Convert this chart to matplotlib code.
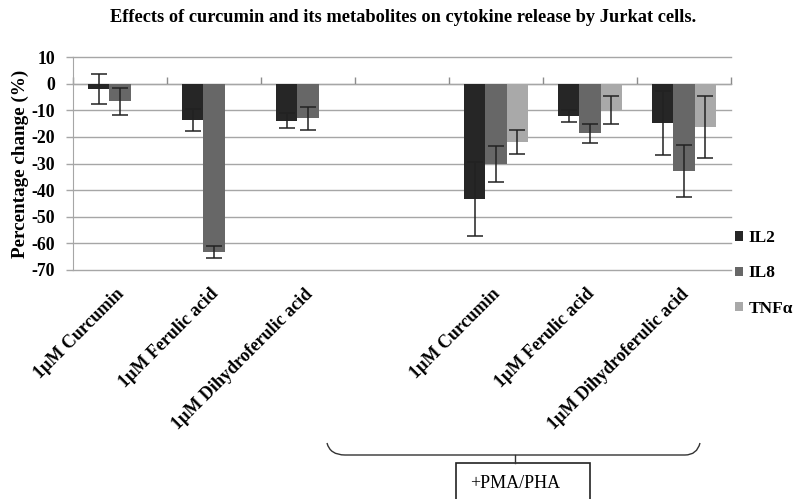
import numpy as np
import matplotlib
matplotlib.use("Agg")
import matplotlib.pyplot as plt
from matplotlib.patches import Patch, PathPatch, Rectangle
from matplotlib.path import Path
from matplotlib.lines import Line2D
from matplotlib.transforms import ScaledTranslation

plt.rcParams['font.family'] = ['Liberation Serif', 'DejaVu Serif']

categories = ["1µM Curcumin", "1µM Ferulic acid", "1µM Dihydroferulic acid", "",
              "1µM Curcumin", "1µM Ferulic acid", "1µM Dihydroferulic acid"]
series_names = ["IL2", "IL8", "TNFα"]
il2 = [-2.0, -13.7, -13.9, np.nan, -43.5, -12.2, -14.9]
il2_err = [5.8, 4.0, 2.8, np.nan, 13.9, 2.4, 12.0]
il8 = [-6.7, -63.2, -13.0, np.nan, -30.2, -18.6, -32.9]
il8_err = [5.0, 2.4, 4.3, np.nan, 6.7, 3.6, 9.7]
tnf = [np.nan, np.nan, np.nan, np.nan, -22.0, -10.0, -16.4]
tnf_err = [np.nan, np.nan, np.nan, np.nan, 4.5, 5.3, 11.7]
y_ticks = [10, 0, -10, -20, -30, -40, -50, -60, -70]

colors = ["#262626", "#676767", "#a9a9a9"]
grid_c = "#a6a6a6"

fig = plt.figure(figsize=(7.98, 4.99), dpi=100)
W, H = 798, 499
ax = fig.add_axes([73 / W, 1 - 270 / H, (731 - 73) / W, (270 - 57) / H])

x = np.arange(len(categories))
bw = 0.225
values = [il2, il8, tnf]
errors = [il2_err, il8_err, tnf_err]
for i, (v, e) in enumerate(zip(values, errors)):
    pos = x + (i - 1) * bw
    ax.bar(pos, v, width=bw, color=colors[i], edgecolor="none", zorder=2)
    ax.errorbar(pos, v, yerr=e, fmt="none", ecolor="#222222", elinewidth=1.1,
                capsize=5.5, capthick=1.1, zorder=3)

ax.set_xlim(-0.5, len(categories) - 0.5)
ax.set_ylim(min(y_ticks), max(y_ticks))
ax.set_yticks(y_ticks)
ax.set_yticklabels([str(t) for t in y_ticks], fontsize=12.8, fontweight="bold")
ax.yaxis.grid(True, color=grid_c, linewidth=1.0, zorder=0)
for gl in ax.get_ygridlines():
    gl.set_clip_on(False)
ax.set_axisbelow(True)
ax.tick_params(axis="y", length=5, color=grid_c, width=1.0, pad=8)

for s in ["top", "right", "bottom"]:
    ax.spines[s].set_visible(False)
ax.spines["left"].set_color(grid_c)

ax.set_xticks(x)
ax.set_xticklabels(categories, rotation=45, ha="right", rotation_mode="anchor",
                   fontsize=13, fontweight="bold")
ax.tick_params(axis="x", length=0, pad=12)
shift = ScaledTranslation(-4 / 100, 1 / 100, fig.dpi_scale_trans)
for lbl in ax.get_xticklabels():
    lbl.set_transform(lbl.get_transform() + shift)

# category axis crossing at zero, with ticks between categories
zero_frac = (0 - min(y_ticks)) / (max(y_ticks) - min(y_ticks))
sec = ax.secondary_xaxis(zero_frac)
sec.set_xticks(np.arange(-0.5, len(categories), 1.0))
sec.set_xticklabels([])
sec.tick_params(length=5, color="#8c8c8c", width=1.0, direction="out")
sec.spines["bottom"].set_color("#8c8c8c")

ax.set_ylabel("Percentage change (%)", fontsize=13.8, fontweight="bold", labelpad=2)

fig.suptitle("Effects of curcumin and its metabolites on cytokine release by Jurkat cells.",
             x=403 / W, y=1 - 9 / H, fontsize=13.2, fontweight="bold", va="top")

handles = [Patch(facecolor=c, edgecolor="none") for c in colors]
fig.legend(handles, series_names, loc="upper left", bbox_to_anchor=(735 / W, 1 - 230 / H),
           frameon=False, prop={"size": 12.5, "weight": "bold"},
           handlelength=0.46, handleheight=0.46, handletextpad=0.3, labelspacing=1.12,
           borderaxespad=0, borderpad=0)

# brace grouping the stimulated conditions
px = lambda X, Y: (X / W, 1 - Y / H)
verts = [px(327, 443), px(330, 455), px(345, 455),
         px(685, 455),
         px(697, 455), px(700, 443)]
codes = [Path.MOVETO, Path.CURVE3, Path.CURVE3, Path.LINETO, Path.CURVE3, Path.CURVE3]
fig.add_artist(PathPatch(Path(verts, codes), transform=fig.transFigure,
                         facecolor="none", edgecolor="#333333", linewidth=1.0))
fig.add_artist(Line2D([515 / W, 515 / W], [1 - 455 / H, 1 - 463 / H],
                      transform=fig.transFigure, color="#333333", linewidth=1.0))
fig.add_artist(Rectangle(px(456, 510), (590 - 456) / W, (510 - 463) / H,
                         transform=fig.transFigure, facecolor="none",
                         edgecolor="#222222", linewidth=1.2, clip_on=False))
fig.text(470 / W, 1 - 483 / H, "+PMA/PHA", fontsize=13, va="center", ha="left")

fig.savefig("out.png", dpi=100)
